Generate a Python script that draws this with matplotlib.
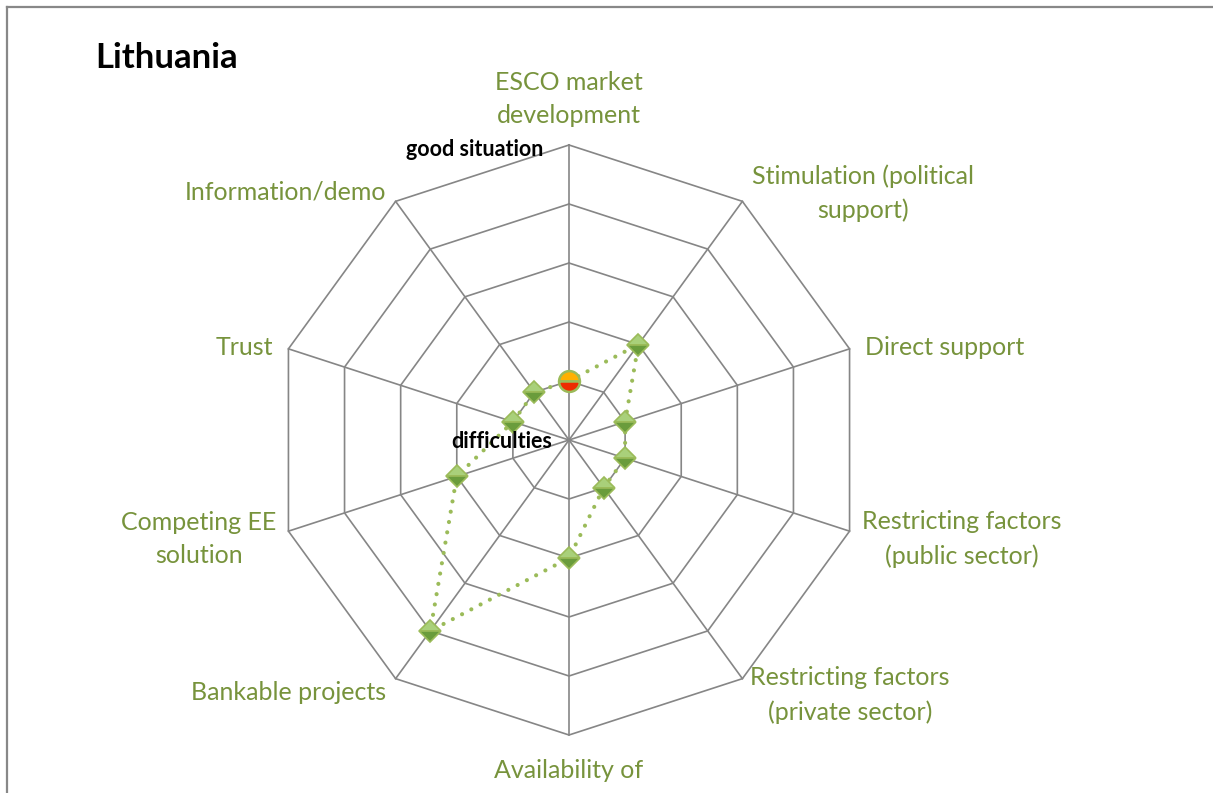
import numpy as np
import matplotlib
matplotlib.use("Agg")
import matplotlib.pyplot as plt
from matplotlib.lines import Line2D

# ---- data ----
categories = ["ESCO market\ndevelopment", "Stimulation (political\nsupport)", "Direct support",
              "Restricting factors\n(public sector)", "Restricting factors\n(private sector)",
              "Availability of", "Bankable projects", "Competing EE\nsolution",
              "Trust", "Information/demo"]
values = [1, 2, 1, 1, 1, 2, 4, 2, 1, 1]
rings = [1, 2, 3, 4, 5]
title = "Lithuania"

W, H = 1213, 793
fig = plt.figure(figsize=(W / 100, H / 100), dpi=100)
fig.patch.set_facecolor("white")

def px(x, y):
    return x / W, 1 - y / H

FONT = "Lato"
LABEL_C = "#77933C"
GRID_C = "#868686"

# polar axes: centre (569,440), radius 295 px
cx, cy, R = 569, 440, 295
ax = fig.add_axes([(cx - R) / W, (H - cy - R) / H, 2 * R / W, 2 * R / H], projection="polar")
ax.set_theta_zero_location("N")
ax.set_theta_direction(-1)
ax.set_ylim(0, 5)
ax.grid(False)
ax.spines["polar"].set_visible(False)
ax.set_xticks([])
ax.set_yticks([])
ax.patch.set_alpha(0)

n = len(categories)
theta = np.arange(n) * 2 * np.pi / n
theta_closed = np.append(theta, theta[0])

for r in rings:
    ax.plot(theta_closed, [r] * (n + 1), color=GRID_C, lw=1.2, zorder=1, clip_on=False)
for t in theta:
    ax.plot([t, t], [0, rings[-1]], color=GRID_C, lw=1.2, zorder=1, clip_on=False)

vals_closed = values + [values[0]]
ax.plot(theta_closed, vals_closed, color="#9BBB59", lw=3.0, linestyle=(0, (0.01, 2.5)),
        dash_capstyle="round", zorder=3, clip_on=False)
ax.plot(theta[1:], values[1:], linestyle="none", marker="D", markersize=11.5,
        markerfacecolor="#a9d07a", markerfacecoloralt="#6a9c3c", fillstyle="top",
        markeredgecolor="#9BBB59", markeredgewidth=1.2, zorder=4, clip_on=False)
ax.plot(theta[:1], values[:1], linestyle="none", marker="o", markersize=15,
        markerfacecolor="#ffb000", markerfacecoloralt="#ee2a00", fillstyle="top",
        markeredgecolor="#9BBB59", markeredgewidth=1.8, zorder=5, clip_on=False)

# category labels (pixel positions of Excel layout)
lab_pos = [
    (569, 99, "center"), (863, 193, "center"), (865, 348, "left"),
    (962, 539, "center"), (850, 695, "center"), (569, 771, "center"),
    (386, 693, "right"), (199, 539, "center"), (273, 348, "right"), (386, 192, "right"),
]
for lab, (x, y, ha) in zip(categories, lab_pos):
    fig.text(*px(x, y), lab, ha=ha, va="center", color=LABEL_C, fontsize=18,
             family=FONT, linespacing=1.55, multialignment="center")

fig.text(*px(406, 150), "good situation", ha="left", va="center", fontsize=15.5,
         fontweight="bold", family=FONT, color="black", zorder=10)
fig.text(*px(451, 441), "difficulties", ha="left", va="center", fontsize=15.5,
         fontweight="bold", family=FONT, color="black", zorder=10)

fig.text(*px(95, 58), title, ha="left", va="center", fontsize=25, fontweight="bold",
         family=FONT, color="black")

# outer frame (partially visible)
fig.add_artist(Line2D([7 / W, 1], [1 - 7 / H, 1 - 7 / H], transform=fig.transFigure,
                      color="#888888", lw=1.6))
fig.add_artist(Line2D([7 / W, 7 / W], [0, 1 - 7 / H], transform=fig.transFigure,
                      color="#888888", lw=1.6))

fig.savefig("out.png", dpi=100, facecolor="white")
